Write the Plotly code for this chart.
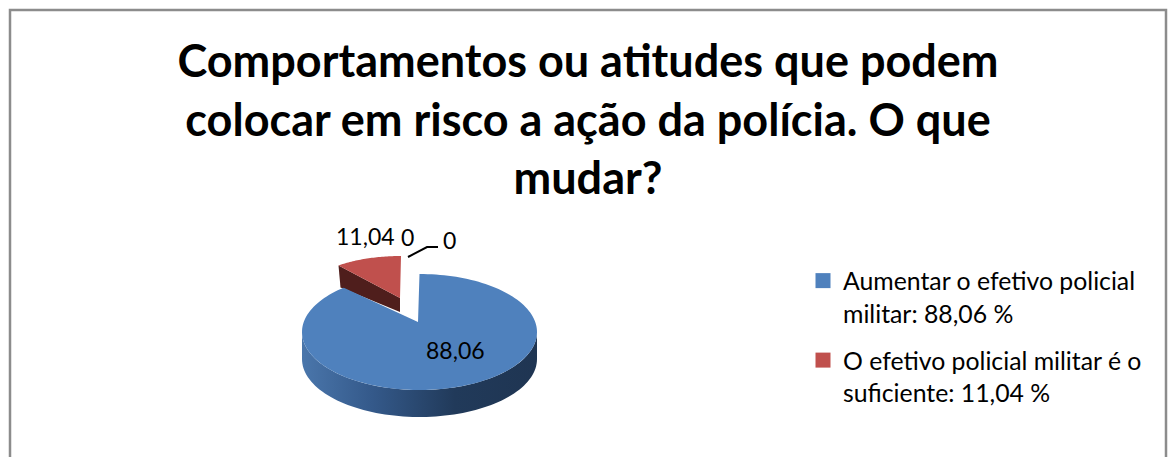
import numpy as np
import plotly.graph_objects as go

categories = ["Aumentar o efetivo policial<br>militar: 88,06 %", "O efetivo policial militar é o<br>suficiente: 11,04 %", "", ""]
values = [88.06, 11.04, 0, 0]
value_labels = ["88,06", "11,04", "0", "0"]
title_text = "Comportamentos ou atitudes que podem<br>colocar em risco a ação da polícia. O que<br>mudar?"
colors = ["#4F81BD", "#C0504D"]
FONT = "Lato"

blue_sweep = 360 * values[0] / sum(values)
red_sweep = 360 * values[1] / sum(values)


def ell(cx, cy, rx, ry, deg):
    t = np.radians(deg)
    return cx + rx * np.sin(t), cy - ry * np.cos(t)


fig = go.Figure()

# red wedge (exploded, further back)
t_red = np.linspace(blue_sweep, blue_sweep + red_sweep, 40)
rx_, ry_ = ell(401, 296, 97, 40, t_red)
# red cut face
lx, ly = rx_[0], ry_[0]
fig.add_trace(go.Scatter(x=[400, lx, lx + 2, 400, 400], y=[298, ly, ly + 22, 312, 298], fill="toself",
                         fillcolor="#4F1E1C", mode="none", hoverinfo="skip", showlegend=False))
fig.add_trace(go.Scatter(x=np.r_[400, rx_, 400], y=np.r_[298, ry_, 298], fill="toself",
                         fillcolor=colors[1], mode="none", hoverinfo="skip", showlegend=False))

# blue wall
t_side = np.linspace(90, 270, 80)
sx, sy = ell(419.5, 332, 117.5, 58, t_side)
fig.add_trace(go.Scatter(x=np.r_[sx, sx[::-1]], y=np.r_[sy, sy[::-1] + 27], fill="toself", mode="none",
                         fillgradient=dict(type="horizontal", colorscale=[[0, "#4A76AB"], [0.3, "#34598A"], [0.65, "#213A5A"], [1, "#1F3552"]]),
                         hoverinfo="skip", showlegend=False))
# blue top
t_blue = np.linspace(0, blue_sweep, 160)
bx, by = ell(419.5, 332, 117.5, 58, t_blue)
fig.add_trace(go.Scatter(x=np.r_[418, bx, 418], y=np.r_[322, by, 322], fill="toself",
                         fillcolor=colors[0], mode="none", hoverinfo="skip", showlegend=False))

# legend entries
for name, col in zip(categories[:2], colors):
    fig.add_trace(go.Scatter(x=[None], y=[None], mode="markers", name=name, legendgroup=name,
                             marker=dict(symbol="square", size=15, color=col)))

label_pos = [(455, 350), (365, 236), (407, 237), (449, 240)]
annotations = [dict(x=x, y=y, xref="x", yref="y", text=t, showarrow=False,
                    font=dict(family=FONT, size=23, color="black"))
               for t, (x, y) in zip(value_labels, label_pos)]

shapes = [
    dict(type="rect", xref="x", yref="y", x0=10, x1=1166, y0=10, y1=470, line=dict(color="#8C8C8C", width=2.5), layer="below"),
    dict(type="path", xref="x", yref="y", path="M 408 257 L 427 247 L 438 247", line=dict(color="black", width=2)),
]

fig.update_layout(
    width=1171, height=457, margin=dict(l=0, r=0, t=0, b=0),
    paper_bgcolor="white", plot_bgcolor="white",
    title=dict(text=title_text, x=588 / 1171, xanchor="center", y=1 - 77 / 457, yanchor="top",
               font=dict(family=FONT, size=45, color="black", weight="bold")),
    xaxis=dict(range=[0, 1171], visible=False, fixedrange=True),
    yaxis=dict(range=[457, 0], visible=False, fixedrange=True),
    legend=dict(x=803 / 1171, y=1 - 258 / 457, xanchor="left", yanchor="top", valign="top",
                font=dict(family=FONT, size=24.8, color="black"), tracegroupgap=12,
                bgcolor="rgba(0,0,0,0)", itemclick=False, itemdoubleclick=False),
    annotations=annotations, shapes=shapes, showlegend=True,
)
fig.write_html("out.html", config=dict(displayModeBar=False), post_script="document.body.style.margin='0';")
